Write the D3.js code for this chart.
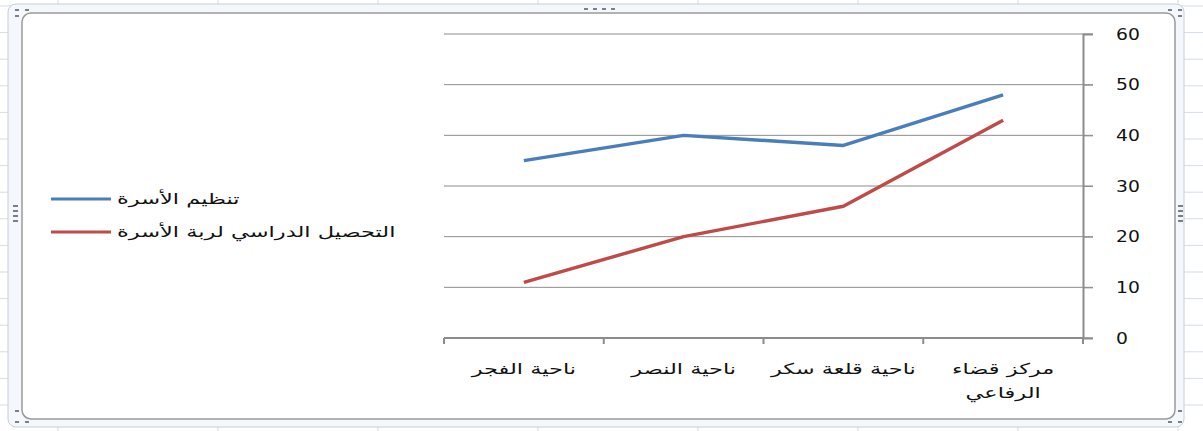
<!DOCTYPE html>
<html lang="ar">
<head>
	<meta charset="utf-8">
	<title>Chart</title>
	<script src="https://d3js.org/d3.v7.min.js" charset="utf-8"></script>
	<style>
		body { margin: 0; background: #ffffff; }
		text { font-family: "DejaVu Sans", sans-serif; fill: #111; }
	</style>
</head>
<body>
	<div id="chart"></div>
<script>
	// data
	var categories = ["مركز قضاء الرفاعي", "ناحية قلعة سكر", "ناحية النصر", "ناحية الفجر"];
	var seriesNames = ["تنظيم الأسرة", "التحصيل الدراسي لربة الأسرة"];
	var familyPlanning = [48, 38, 40, 35];
	var education = [43, 26, 20, 11];
	var yTicks = [0, 10, 20, 30, 40, 50, 60];

	var colors = ["#4a7ebb", "#be4b48"];
	var w = 1203, h = 431;
	var stretch = 1.5; // the reference text is drawn wide

	var svg = d3.select("#chart").append("svg")
		.attr("width", w)
		.attr("height", h);

	// spreadsheet cells behind the chart
	var cellCols = d3.range(58, w, 160);
	var cellRows = d3.range(6, h, 26.6);
	svg.selectAll(".col").data(cellCols).enter().append("line")
		.attr("x1", function(d){ return d; }).attr("x2", function(d){ return d; })
		.attr("y1", 0).attr("y2", h)
		.attr("stroke", "#d5dde8");
	svg.selectAll(".row").data(cellRows).enter().append("line")
		.attr("y1", function(d){ return d; }).attr("y2", function(d){ return d; })
		.attr("x1", 0).attr("x2", w)
		.attr("stroke", "#d5dde8");

	// selection frame and chart area
	svg.append("rect")
		.attr("x", 8).attr("y", 4).attr("width", 1176).attr("height", 423)
		.attr("rx", 8)
		.attr("fill", "#f4f7fb").attr("stroke", "#c3cedb");
	svg.append("rect")
		.attr("x", 22).attr("y", 13).attr("width", 1153).attr("height", 406)
		.attr("rx", 9)
		.attr("fill", "#ffffff").attr("stroke", "#9a9a9a").attr("stroke-width", 1.5);

	// handles
	var handles = [[584, 8, 4, 2], [593, 8, 4, 2], [602, 8, 4, 2], [611, 8, 4, 2],
		[13, 205, 5, 2], [13, 210, 5, 2], [13, 215, 5, 2], [13, 220, 5, 2],
		[1178, 205, 5, 2], [1178, 210, 5, 2], [1178, 215, 5, 2], [1178, 220, 5, 2],
		[15, 9, 4, 2], [25, 9, 4, 2], [15, 15, 4, 2],
		[1168, 9, 4, 2], [1178, 9, 4, 2], [1178, 15, 4, 2],
		[15, 410, 4, 2], [15, 421, 4, 2], [25, 421, 4, 2],
		[1178, 410, 4, 2], [1168, 421, 4, 2], [1178, 421, 4, 2]];
	svg.selectAll(".handle").data(handles).enter().append("rect")
		.attr("x", function(d){ return d[0]; }).attr("y", function(d){ return d[1]; })
		.attr("width", function(d){ return d[2]; }).attr("height", function(d){ return d[3]; })
		.attr("fill", "#7a7f88");

	// plot area (RTL: value axis on the right, first category on the right)
	var plotLeft = 444, plotRight = 1083, plotTop = 34, plotBottom = 338;

	var x = d3.scaleBand()
		.domain(categories)
		.range([plotRight, plotLeft]);

	var y = d3.scaleLinear()
		.domain([0, 60])
		.range([plotBottom, plotTop]);

	// gridlines
	svg.selectAll(".grid").data(yTicks).enter().append("line")
		.attr("x1", plotLeft).attr("x2", plotRight + 10)
		.attr("y1", function(d){ return y(d); }).attr("y2", function(d){ return y(d); })
		.attr("stroke", "#8c8c8c").attr("stroke-width", 1);

	// value axis
	var yAxis = svg.append("g")
		.attr("transform", "translate(" + plotRight + ",0)")
		.call(d3.axisRight(y).tickValues(yTicks).tickSize(10).tickPadding(0).tickFormat(function(){ return ""; }));
	yAxis.select(".domain").attr("stroke", "#8c8c8c").attr("stroke-width", 2);
	yAxis.selectAll(".tick line").attr("stroke", "#8c8c8c");
	yAxis.selectAll(".tick").append("text")
		.attr("transform", "translate(33,5) scale(1.25,1)")
		.attr("font-size", "15px")
		.attr("font-family", "'DejaVu Sans', sans-serif")
		.attr("fill", "#1a1a1a")
		.attr("text-anchor", "start")
		.text(function(d){ return d; });

	// category axis
	var catTicks = categories.map(function(c){ return x(c) + x.bandwidth(); }).concat([plotLeft]);
	svg.append("line")
		.attr("x1", plotLeft).attr("x2", plotRight)
		.attr("y1", plotBottom).attr("y2", plotBottom)
		.attr("stroke", "#8c8c8c").attr("stroke-width", 2);
	svg.selectAll(".ctick").data(catTicks).enter().append("line")
		.attr("x1", function(d){ return d; }).attr("x2", function(d){ return d; })
		.attr("y1", plotBottom).attr("y2", plotBottom + 6)
		.attr("stroke", "#8c8c8c").attr("stroke-width", 2);

	var catLabels = svg.selectAll(".clabel").data(categories).enter().append("text")
		.attr("transform", function(d){ return "translate(" + (x(d) + x.bandwidth() / 2) + ",374) scale(" + stretch + ",1)"; })
		.attr("text-anchor", "middle")
		.attr("font-size", "15px");
	catLabels.each(function(d){
		var el = d3.select(this);
		el.text(d);
		var maxW = (x.bandwidth() - 10) / stretch;
		if (this.getComputedTextLength() <= maxW) return;
		// wrap onto two lines
		el.text(null);
		var words = d.split(" ");
		var first = [], rest = words.slice();
		var probe = el.append("tspan").attr("x", 0);
		while (rest.length) {
			probe.text(first.concat(rest[0]).join(" "));
			if (first.length && probe.node().getComputedTextLength() > maxW) break;
			first.push(rest.shift());
		}
		probe.text(first.join(" "));
		el.append("tspan").attr("x", 0).attr("dy", 24).text(rest.join(" "));
	});

	// lines
	var line = d3.line()
		.x(function(d, i){ return x(categories[i]) + x.bandwidth() / 2; })
		.y(function(d){ return y(d); });

	[familyPlanning, education].forEach(function(s, i){
		svg.append("path")
			.datum(s)
			.attr("d", line)
			.attr("fill", "none")
			.attr("stroke", colors[i])
			.attr("stroke-width", 3.4)
			.attr("stroke-linejoin", "round");
	});

	// legend
	var legend = svg.selectAll(".legend").data(seriesNames).enter().append("g")
		.attr("transform", function(d, i){ return "translate(51," + (199 + i * 33) + ")"; });
	legend.append("line")
		.attr("x1", 0).attr("x2", 60)
		.attr("stroke", function(d, i){ return colors[i]; })
		.attr("stroke-width", 3.2);
	legend.append("text")
		.attr("transform", "translate(66,5) scale(" + stretch + ",1)")
		.attr("font-size", "15px")
		.text(function(d){ return d; });
</script>
</body>
</html>
